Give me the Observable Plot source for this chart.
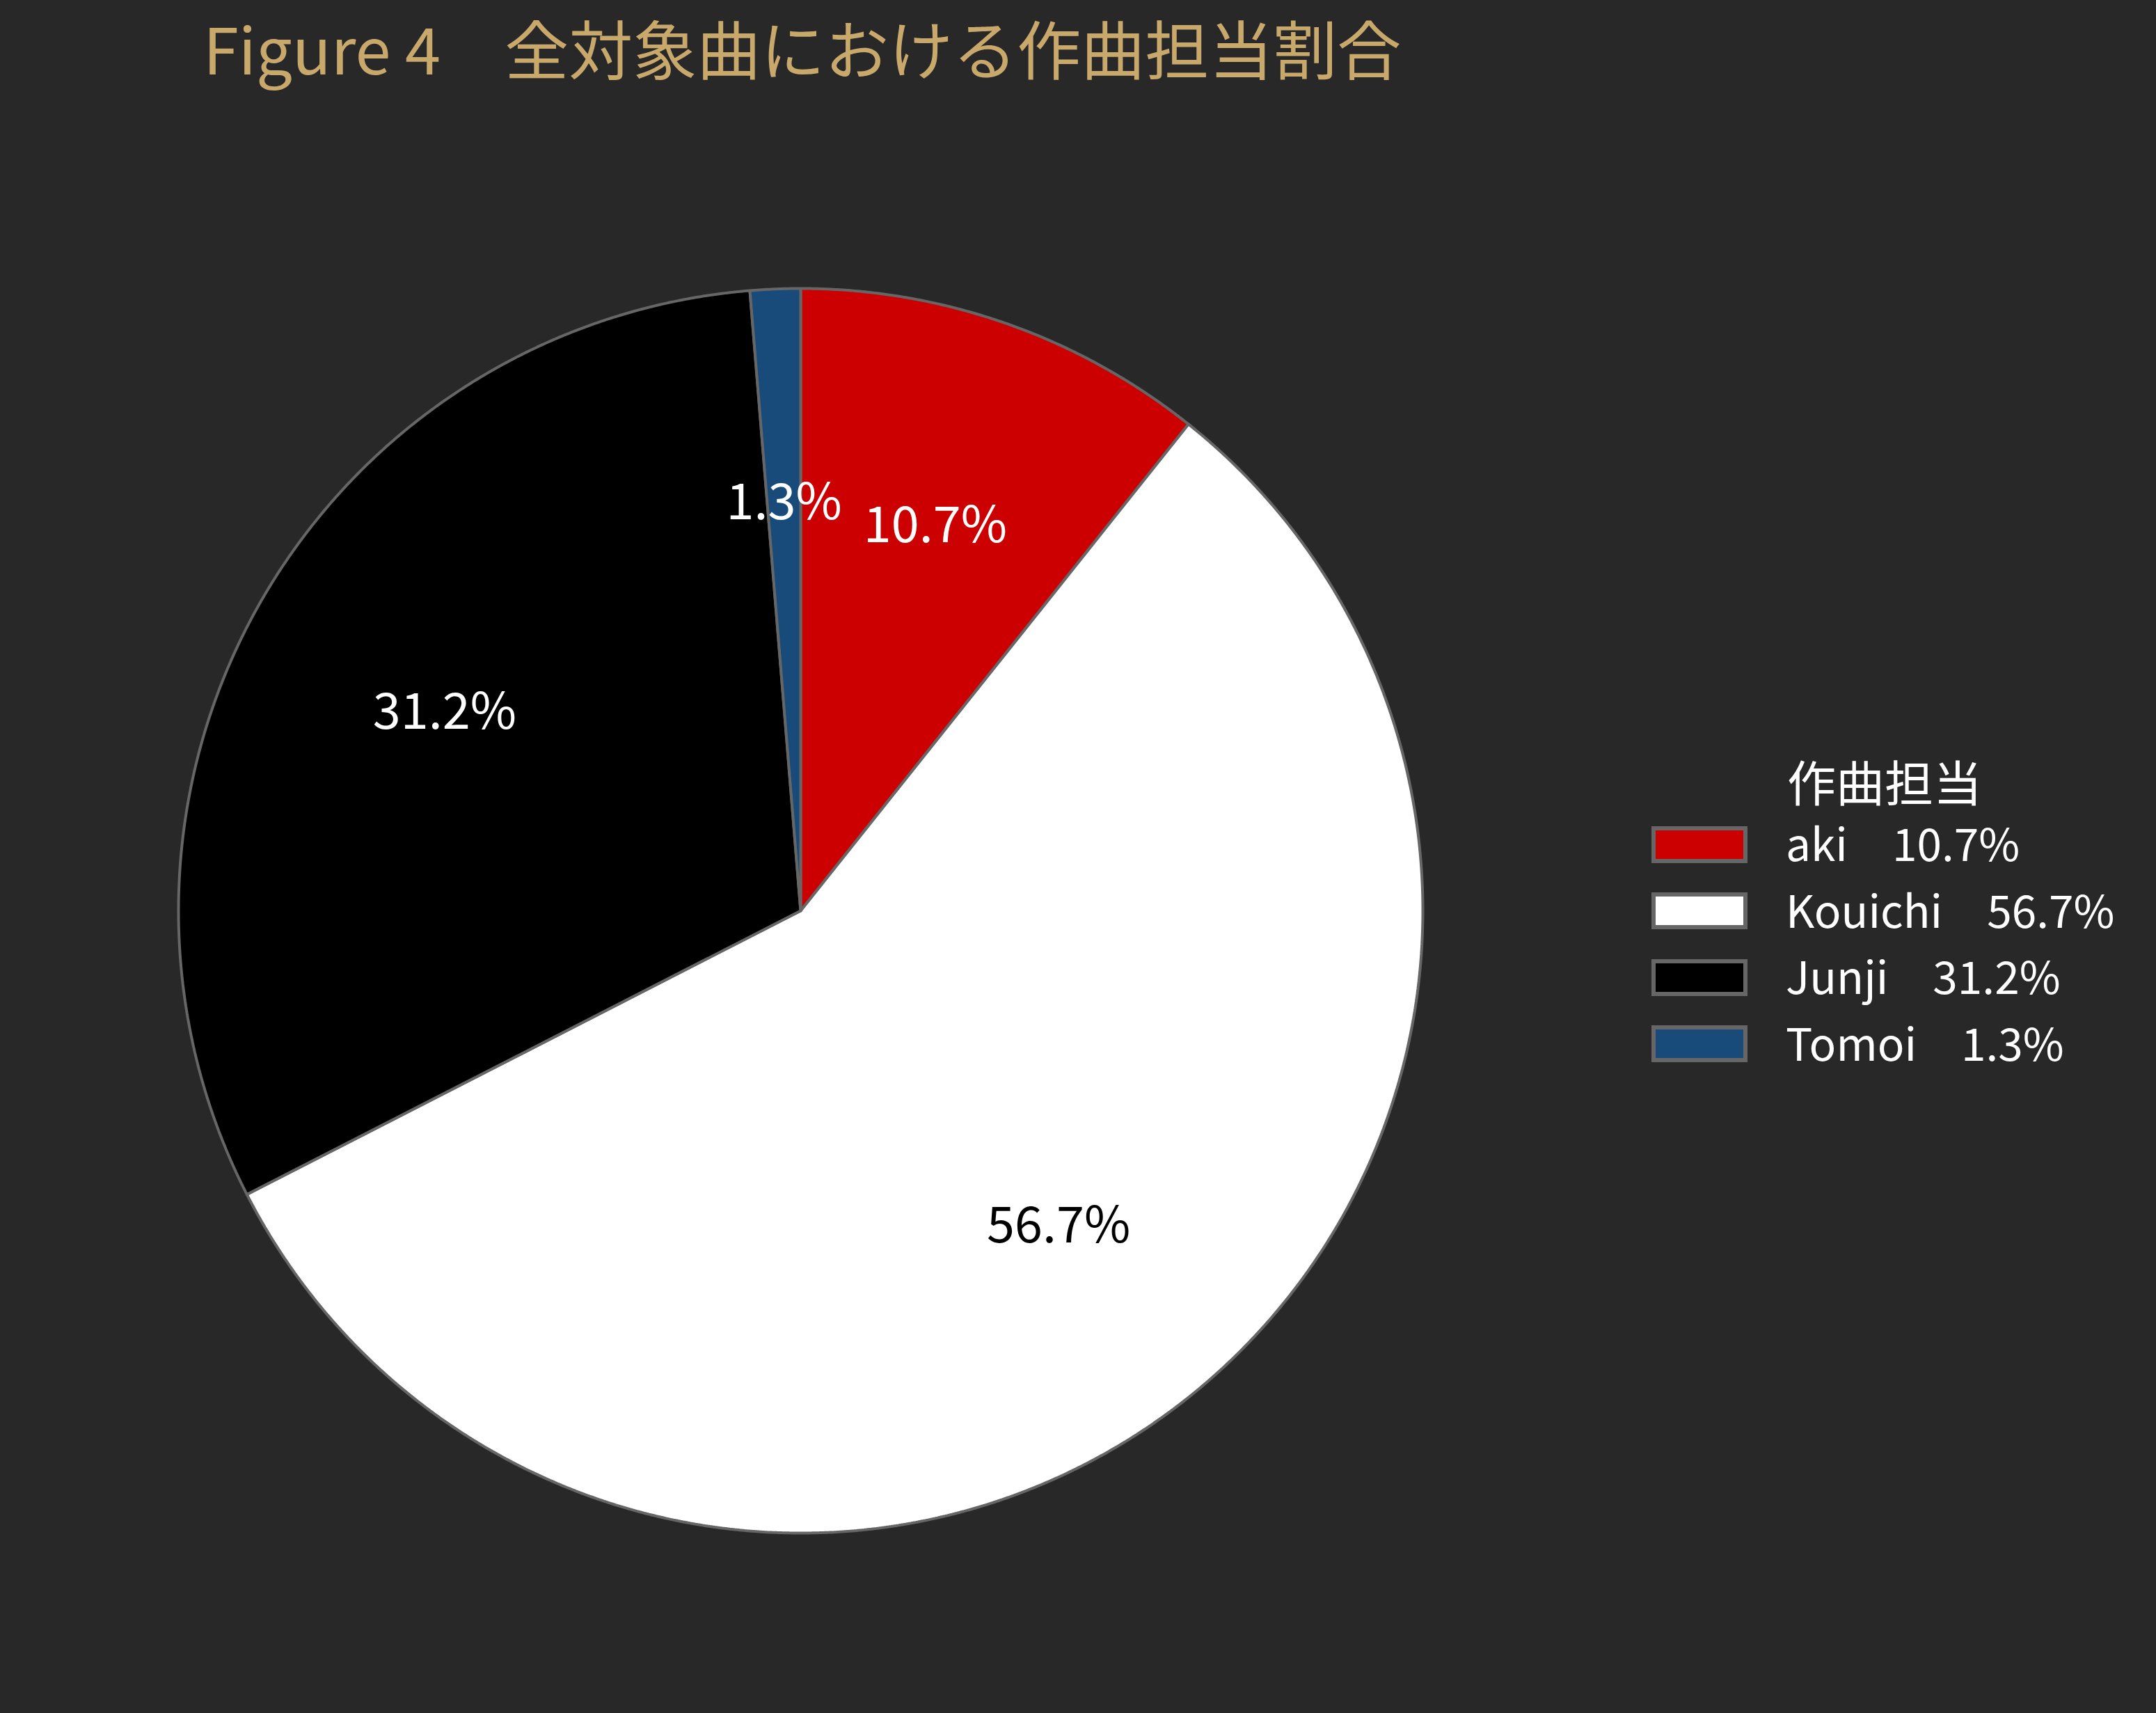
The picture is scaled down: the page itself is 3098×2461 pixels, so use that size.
<!DOCTYPE html>
<html><head><meta charset="utf-8">
<script src="https://cdn.jsdelivr.net/npm/d3@7"></script>
<script src="https://cdn.jsdelivr.net/npm/@observablehq/plot@0.6"></script>
<style>
html,body{margin:0;padding:0;background:#282828;}
body{width:3098px;height:2461px;position:relative;overflow:hidden;font-family:"Noto Sans CJK JP","Noto Sans",sans-serif;}
#chart{position:absolute;left:0;top:0;}
#title{position:absolute;left:292px;top:0px;font-size:92px;line-height:normal;color:#c9a96b;white-space:pre;}
#legtitle{position:absolute;left:2568px;top:1071px;font-size:70px;line-height:normal;color:#ffffff;white-space:pre;}
.sw{position:absolute;left:2373px;width:138px;height:53px;box-sizing:border-box;border:6px solid #666666;}
.lt{position:absolute;left:2566px;font-size:64px;line-height:normal;color:#ffffff;white-space:pre;}
</style>
</head><body>
<div id="chart"></div>
<div id="title"></div>
<div id="legtitle"></div>
<script>
// ---- data ----
const titleText = "Figure 4\u3000全対象曲における作曲担当割合";
const legendTitle = "作曲担当";
const names = ["aki", "Kouichi", "Junji", "Tomoi"];
const shares = [10.7, 56.7, 31.2, 1.3];
const sliceColors = ["#cc0000", "#ffffff", "#000000", "#184a7a"];
const labelColors = ["#ffffff", "#000000", "#ffffff", "#ffffff"];

// ---- build slice polygons from data ----
const pie = d3.pie().sort(null).value(d => d)(shares);
const polys = [];
const labels = [];
pie.forEach((p, i) => {
  const name = names[i], color = sliceColors[i];
  polys.push({name, x: 0, y: 0, color});
  const n = Math.max(4, Math.ceil((p.endAngle - p.startAngle) / 0.004));
  for (let k = 0; k <= n; k++) {
    const a = p.startAngle + (p.endAngle - p.startAngle) * k / n;
    polys.push({name, x: Math.sin(a), y: Math.cos(a), color});
  }
  polys.push({name, x: 0, y: 0, color});
  const mid = (p.startAngle + p.endAngle) / 2;
  labels.push({x: 0.655 * Math.sin(mid), y: 0.655 * Math.cos(mid), text: shares[i].toFixed(1) + "%", tc: labelColors[i]});
});

const W = 3098, H = 2461, cx = 1150, cy = 1308, R = 894;
const chart = Plot.plot({
  width: W, height: H, margin: 0,
  x: {domain: [-cx / R, (W - cx) / R], range: [0, W], axis: null},
  y: {domain: [-(H - cy) / R, cy / R], range: [H, 0], axis: null},
  color: {type: "identity"},
  style: {background: "transparent", fontFamily: "'Noto Sans CJK JP', sans-serif"},
  marks: [
    Plot.line(polys, {x: "x", y: "y", z: "name", fill: "color", stroke: "#666666", strokeWidth: 4, strokeLinejoin: "miter"}),
    Plot.text(labels, {x: "x", y: "y", text: "text", fill: "tc", fontSize: 72})
  ]
});
document.getElementById("chart").appendChild(chart);

document.getElementById("title").textContent = titleText;
document.getElementById("legtitle").textContent = legendTitle;
const rowCenters0 = 1213, rowStep = 95.5;
names.forEach((nm, i) => {
  const c = rowCenters0 + i * rowStep;
  const sw = document.createElement("div");
  sw.className = "sw";
  sw.style.top = (c - 26.5) + "px";
  sw.style.background = sliceColors[i];
  document.body.appendChild(sw);
  const t = document.createElement("div");
  t.className = "lt";
  t.style.top = (c + 24 - 74) + "px";
  t.textContent = nm + "\u3000" + shares[i].toFixed(1) + "%";
  document.body.appendChild(t);
});
</script>
</body></html>
